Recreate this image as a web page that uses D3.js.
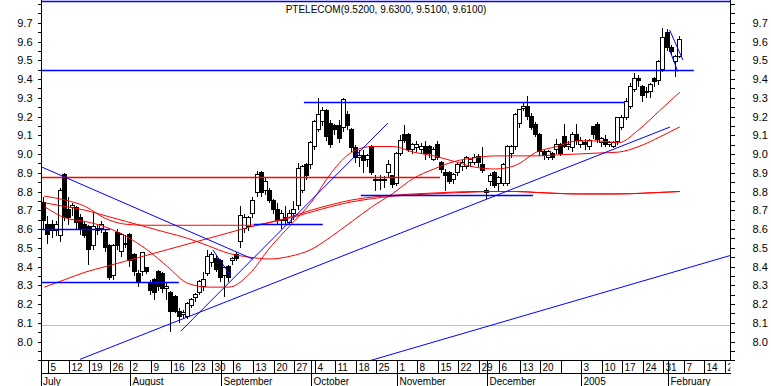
<!DOCTYPE html>
<html>
<head>
<meta charset="utf-8">
<script src="https://cdnjs.cloudflare.com/ajax/libs/d3/7.8.5/d3.min.js"></script>
<style>
    body { margin: 0; background: #fff; }
    text { font-family: "Liberation Sans", Arial, sans-serif; fill: #000; }
</style>
</head>
<body>
<script>
(function() {
    'use strict';

    let width = 771;
    let height = 386;

    let title = "PTELECOM(9.5200, 9.6300, 9.5100, 9.6100)";

    // daily bars, first one is Friday 2 July 2004
    let firstDay = new Date(2004, 6, 2);
    let lastDay = new Date(2005, 1, 25);

    let opens = [8.74, 8.62, 8.62, 8.59, 8.56, 8.89, 8.70, 8.71, 8.71, 8.66, 8.62, 8.61, 8.51, 8.60, 8.60, 8.58, 8.51, 8.35, 8.58, 8.48,
        8.52, 8.57, 8.46, 8.36, 8.37, 8.39, 8.31, 8.33, 8.37, 8.36, 8.28, 8.26, 8.24, 8.16, 8.14, 8.13, 8.19, 8.23, 8.26, 8.29,
        8.36, 8.42, 8.44, 8.43, 8.35, 8.40, 8.43, 8.46, 8.53, 8.60, 8.61, 8.68, 8.79, 8.90, 8.80, 8.80, 8.75, 8.70, 8.64, 8.66,
        8.63, 8.68, 8.72, 8.80, 8.94, 8.94, 9.04, 9.13, 9.17, 9.23, 9.16, 9.15, 9.15, 9.14, 9.21, 9.13, 9.03, 8.98, 8.99, 8.97,
        9.04, 8.86, 8.86, 8.86, 8.90, 8.88, 8.84, 9.00, 9.10, 9.10, 9.02, 9.03, 9.02, 9.04, 9.04, 8.97, 9.05, 8.95, 8.90, 8.90,
        8.86, 8.90, 8.93, 8.93, 8.95, 8.95, 8.985, 8.94, 8.80, 8.85, 8.90, 8.84, 8.84, 8.84, 9.00, 9.04, 9.16, 9.24, 9.25, 9.20,
        9.155, 9.10, 9.01, 8.98, 9.00, 9.02, 9.05, 9.09, 9.04, 9.03, 9.10, 9.05, 9.06, 9.04, 9.146, 9.155, 9.06, 9.075, 9.05, 9.04,
        9.066, 9.14, 9.19, 9.25, 9.34, 9.40, 9.36, 9.33, 9.33, 9.40, 9.39, 9.45, 9.645, 9.565, 9.49, 9.52];
    let highs = [8.77, 8.67, 8.65, 8.64, 8.82, 8.90, 8.77, 8.74, 8.72, 8.68, 8.64, 8.62, 8.69, 8.62, 8.64, 8.60, 8.52, 8.52, 8.60, 8.58,
        8.57, 8.58, 8.47, 8.38, 8.48, 8.40, 8.33, 8.34, 8.38, 8.37, 8.31, 8.27, 8.25, 8.18, 8.17, 8.21, 8.23, 8.26, 8.33, 8.37,
        8.49, 8.48, 8.46, 8.44, 8.40, 8.41, 8.45, 8.48, 8.72, 8.68, 8.67, 8.77, 8.91, 8.91, 8.87, 8.82, 8.76, 8.74, 8.70, 8.72,
        8.70, 8.75, 8.95, 8.94, 8.95, 9.07, 9.18, 9.30, 9.25, 9.24, 9.18, 9.16, 9.18, 9.30, 9.23, 9.14, 9.05, 9.02, 9.02, 9.00,
        9.05, 8.89, 8.89, 8.88, 8.97, 8.89, 9.01, 9.10, 9.155, 9.11, 9.06, 9.07, 9.06, 9.07, 9.05, 9.04, 9.07, 8.96, 8.92, 8.91,
        8.90, 8.95, 8.97, 8.99, 8.98, 9.00, 9.00, 9.04, 8.82, 8.90, 8.91, 8.88, 8.95, 9.05, 9.05, 9.22, 9.24, 9.27, 9.31, 9.22,
        9.17, 9.11, 9.02, 9.02, 9.01, 9.08, 9.06, 9.16, 9.07, 9.12, 9.16, 9.09, 9.08, 9.08, 9.15, 9.17, 9.09, 9.10, 9.07, 9.07,
        9.20, 9.21, 9.30, 9.38, 9.43, 9.42, 9.37, 9.36, 9.38, 9.41, 9.50, 9.67, 9.665, 9.58, 9.53, 9.63];
    let lows = [8.60, 8.52, 8.55, 8.56, 8.53, 8.64, 8.62, 8.67, 8.60, 8.57, 8.55, 8.41, 8.49, 8.57, 8.58, 8.48, 8.33, 8.33, 8.49, 8.45,
        8.50, 8.40, 8.35, 8.29, 8.35, 8.36, 8.25, 8.22, 8.27, 8.26, 8.22, 8.05, 8.15, 8.10, 8.12, 8.12, 8.18, 8.21, 8.25, 8.27,
        8.35, 8.40, 8.37, 8.32, 8.24, 8.32, 8.41, 8.43, 8.50, 8.58, 8.59, 8.66, 8.77, 8.77, 8.78, 8.74, 8.68, 8.62, 8.60, 8.62,
        8.62, 8.65, 8.70, 8.79, 8.86, 8.92, 9.02, 9.12, 9.15, 9.07, 9.03, 9.10, 9.06, 9.12, 9.13, 9.01, 8.95, 8.93, 8.90, 8.93,
        8.89, 8.80, 8.81, 8.82, 8.87, 8.82, 8.83, 8.99, 9.06, 9.01, 9.00, 9.01, 9.00, 8.97, 8.98, 8.96, 8.97, 8.90, 8.80, 8.84,
        8.84, 8.88, 8.91, 8.92, 8.93, 8.94, 8.93, 8.90, 8.76, 8.83, 8.82, 8.80, 8.83, 8.83, 8.98, 9.02, 9.14, 9.23, 9.18, 9.13,
        9.09, 8.99, 8.97, 8.97, 8.97, 9.00, 8.99, 9.03, 9.02, 9.01, 9.05, 9.03, 9.02, 9.02, 9.08, 9.06, 9.04, 9.04, 9.04, 9.03,
        9.05, 9.13, 9.18, 9.24, 9.33, 9.36, 9.28, 9.30, 9.30, 9.36, 9.37, 9.44, 9.55, 9.53, 9.41, 9.51];
    let closes = [8.64, 8.57, 8.59, 8.62, 8.80, 8.66, 8.66, 8.72, 8.63, 8.60, 8.56, 8.49, 8.61, 8.59, 8.62, 8.50, 8.34, 8.51, 8.51, 8.57,
        8.52, 8.43, 8.37, 8.32, 8.47, 8.37, 8.27, 8.26, 8.29, 8.28, 8.29, 8.16, 8.16, 8.13, 8.15, 8.20, 8.22, 8.25, 8.32, 8.33,
        8.45, 8.46, 8.38, 8.34, 8.39, 8.34, 8.44, 8.44, 8.67, 8.66, 8.66, 8.75, 8.89, 8.79, 8.85, 8.75, 8.70, 8.64, 8.68, 8.64,
        8.68, 8.70, 8.92, 8.93, 8.88, 9.06, 9.17, 9.21, 9.23, 9.09, 9.05, 9.13, 9.08, 9.29, 9.15, 9.03, 8.98, 8.99, 8.96, 8.99,
        8.90, 8.86, 8.86, 8.86, 8.94, 8.835, 9.00, 9.07, 9.07, 9.02, 9.05, 9.05, 9.04, 9.00, 9.00, 9.02, 8.98, 8.915, 8.88, 8.85,
        8.89, 8.94, 8.95, 8.98, 8.97, 8.98, 8.95, 8.91, 8.79, 8.88, 8.83, 8.87, 8.94, 9.04, 9.04, 9.21, 9.235, 9.25, 9.20, 9.14,
        9.10, 9.01, 8.99, 9.01, 8.98, 9.05, 9.00, 9.04, 9.05, 9.10, 9.07, 9.07, 9.05, 9.07, 9.10, 9.075, 9.08, 9.05, 9.06, 9.06,
        9.19, 9.19, 9.28, 9.36, 9.40, 9.39, 9.31, 9.33, 9.37, 9.385, 9.49, 9.62, 9.565, 9.545, 9.52, 9.61];

    // moving averages, every fifth bar
    let maDays = [0, 5, 10, 15, 20, 25, 30, 35, 40, 45, 50, 55, 60, 65, 70, 75,
        80, 85, 90, 95, 100, 105, 110, 115, 120, 125, 130, 135, 140, 145, 150, 155];
    let maShort = [8.72, 8.66, 8.64, 8.61, 8.56, 8.49, 8.40, 8.31, 8.29, 8.29, 8.36, 8.50, 8.62, 8.74, 8.90, 9.01,
        9.04, 9.04, 9.01, 8.99, 8.96, 8.93, 8.92, 8.94, 9.01, 9.04, 9.07, 9.07, 9.06, 9.13, 9.23, 9.33];
    let maMedium = [8.74, 8.72, 8.70, 8.67, 8.64, 8.61, 8.58, 8.55, 8.51, 8.47, 8.45, 8.44, 8.455, 8.49, 8.56, 8.64,
        8.72, 8.79, 8.87, 8.92, 8.96, 8.98, 8.99, 8.99, 8.99, 8.995, 9.00, 9.005, 9.01, 9.04, 9.09, 9.145];
    let maLong = [8.775, 8.755, 8.72, 8.655, 8.625, 8.62, 8.62, 8.62, 8.62, 8.62, 8.62, 8.635, 8.665, 8.70, 8.73, 8.755,
        8.77, 8.78, 8.787, 8.792, 8.797, 8.80, 8.80, 8.80, 8.795, 8.79, 8.787, 8.787, 8.787, 8.79, 8.795, 8.80];
    let maSlow = [8.29, 8.33, 8.37, 8.40, 8.43, 8.46, 8.49, 8.52, 8.55, 8.58, 8.61, 8.635, 8.66, 8.69, 8.72, 8.745,
        8.762, 8.775, 8.782, 8.788, 8.793, 8.797, 8.80, 8.80, 8.795, 8.79, 8.787, 8.787, 8.787, 8.79, 8.795, 8.80];

    // drawn lines: [bar, price, bar, price]
    let blueLines = [
        [-0.8, 9.818, 167.4, 9.818],
        [-0.8, 9.446, 158.4, 9.446],
        [63.3, 9.276, 141.6, 9.276],
        [-0.8, 8.598, 16.0, 8.598],
        [-0.8, 8.316, 32.8, 8.316],
        [51.1, 8.627, 67.9, 8.627],
        [77.2, 8.780, 119.2, 8.780],
        [-0.8, 8.932, 50.8, 8.440],
        [33.3, 8.056, 83.8, 9.165],
        [8.7, 7.905, 152.6, 9.144],
        [79.4, 7.898, 167.2, 8.458],
        [41.1, 8.488, 45.5, 8.349],
        [152.5, 9.661, 155.75, 9.501],
        [152.5, 9.555, 154.5, 9.439]
    ];
    let redLines = [
        [-0.8, 8.876, 96.5, 8.876]
    ];
    let grayLevel = 8.088;

    let weekLabels = ["5", "12", "19", "26", "2", "9", "16", "23", "30", "6", "13", "20", "27", "4", "11", "18", "25",
        "1", "8", "15", "22", "29", "6", "13", "20", "", "3", "10", "17", "24", "31", "7", "14", "21"];
    let monthLabels = ["July", "August", "September", "October", "November", "December", "2005", "February"];

    let plotLeft = 41.5;
    let plotRight = 730.5;
    let plotBottom = 360.5;

    function tradingDays() {
        let days = [];
        for (let d = new Date(firstDay); d <= lastDay; d.setDate(d.getDate() + 1)) {
            if (d.getDay() !== 0 && d.getDay() !== 6)
                days.push(new Date(d));
        }
        return days;
    }

    function px(v) { return Math.round(v) + 0.5; }

    function init() {
        let days = tradingDays();

        let x = d3.scaleLinear().domain([-0.7, 167.35]).range([plotLeft, plotRight]);
        let y = d3.scaleLinear().domain([7.9, 9.82]).range([360.25, 0.25]);

        let svg = d3.select("body").append("svg")
            .attr("width", width)
            .attr("height", height)
            .style("display", "block");

        svg.append("rect").attr("width", width).attr("height", height).attr("fill", "#fff");

        let defs = svg.append("defs");
        defs.append("clipPath").attr("id", "plot-clip")
            .append("rect")
            .attr("x", plotLeft).attr("y", 0)
            .attr("width", plotRight - plotLeft).attr("height", plotBottom);
        defs.append("clipPath").attr("id", "band-clip")
            .append("rect").attr("x", plotLeft).attr("y", plotBottom)
            .attr("width", plotRight - plotLeft).attr("height", height - plotBottom);

        // axes
        let tickVals = d3.range(790, 982, 5).map(function(v) { return v / 100; });
        function tickLabel(v) {
            let c = Math.round(v * 100);
            return (c % 10 === 0 && c >= 800 && c <= 970) ? d3.format(".1f")(v) : "";
        }
        let leftAxis = svg.append("g")
            .attr("transform", "translate(" + plotLeft + ",0)")
            .call(d3.axisLeft(y).tickValues(tickVals).tickFormat(tickLabel).tickSize(4).tickSizeOuter(0).tickPadding(5));
        let rightAxis = svg.append("g")
            .attr("transform", "translate(" + plotRight + ",0)")
            .call(d3.axisRight(y).tickValues(tickVals).tickFormat(tickLabel).tickSize(4).tickSizeOuter(0).tickPadding(18));
        [leftAxis, rightAxis].forEach(function(a) {
            a.select(".domain").remove();
            a.selectAll(".tick line").attr("stroke", "#000").attr("shape-rendering", "crispEdges");
            a.selectAll(".tick text").attr("font-size", 11).attr("font-family", null);
        });

        let plot = svg.append("g").attr("clip-path", "url(#plot-clip)");

        // gray level
        plot.append("line")
            .attr("x1", plotLeft).attr("x2", plotRight)
            .attr("y1", px(y(grayLevel))).attr("y2", px(y(grayLevel)))
            .attr("stroke", "#c0c0c0").attr("shape-rendering", "crispEdges");

        // candles
        let bars = d3.range(opens.length).map(function(i) {
            return { i: i, o: opens[i], h: highs[i], l: lows[i], c: closes[i] };
        });
        let candle = plot.append("g").selectAll("g").data(bars).enter().append("g");
        candle.append("line")
            .attr("x1", function(d) { return Math.round(x(d.i)) - 0.5; })
            .attr("x2", function(d) { return Math.round(x(d.i)) - 0.5; })
            .attr("y1", function(d) { return Math.round(y(d.h)); })
            .attr("y2", function(d) { return Math.round(y(d.l)); })
            .attr("stroke", "#000")
            .attr("shape-rendering", "crispEdges");
        candle.append("rect")
            .attr("x", function(d) { return Math.round(x(d.i)) - 2.5; })
            .attr("width", 4)
            .attr("y", function(d) { return px(y(Math.max(d.o, d.c))) - 1; })
            .attr("height", function(d) { return Math.max(1, Math.round(y(Math.min(d.o, d.c))) - Math.round(y(Math.max(d.o, d.c)))); })
            .attr("fill", function(d) { return d.c < d.o ? "#000" : "#fff"; })
            .attr("stroke", "#000")
            .attr("shape-rendering", "crispEdges");

        // moving averages
        let maLine = d3.line()
            .x(function(d) { return x(d[0]); })
            .y(function(d) { return y(d[1]); })
            .curve(d3.curveMonotoneX);
        [maShort, maMedium, maLong, maSlow].forEach(function(ma) {
            plot.append("path")
                .attr("d", maLine(maDays.map(function(d, k) { return [d, ma[k]]; })))
                .attr("fill", "none")
                .attr("stroke", "#ff0000")
                .attr("stroke-width", 1);
        });

        // drawn lines
        function drawSegments(list, colour) {
            plot.append("g").selectAll("line").data(list).enter().append("line")
                .attr("x1", function(d) { return x(d[0]); })
                .attr("y1", function(d) { return d[1] === d[3] ? px(y(d[1])) : y(d[1]); })
                .attr("x2", function(d) { return x(d[2]); })
                .attr("y2", function(d) { return d[1] === d[3] ? px(y(d[3])) : y(d[3]); })
                .attr("stroke", colour)
                .attr("stroke-width", function(d) { return d[1] === d[3] ? 1.5 : 1; });
        }
        drawSegments(redLines, "#ff0000");
        drawSegments(blueLines, "#0000ff");

        // frame and date band
        let frame = svg.append("g").attr("stroke", "#000").attr("shape-rendering", "crispEdges");
        frame.append("line").attr("x1", plotLeft).attr("x2", plotLeft).attr("y1", 0).attr("y2", height);
        frame.append("line").attr("x1", plotRight).attr("x2", plotRight).attr("y1", 0).attr("y2", plotBottom);
        frame.append("line").attr("x1", plotLeft).attr("x2", plotRight).attr("y1", plotBottom).attr("y2", plotBottom);
        frame.append("line").attr("x1", plotLeft).attr("x2", plotRight).attr("y1", 373.5).attr("y2", 373.5);

        let mondays = [];
        let monthStarts = [];
        days.forEach(function(d, i) {
            if (d.getDay() === 1) mondays.push(i);
            if (i > 0 && d.getMonth() !== days[i - 1].getMonth()) monthStarts.push(i);
        });

        let band = svg.append("g").attr("clip-path", "url(#band-clip)");
        let weeks = mondays.slice(0, weekLabels.length);

        band.selectAll(".week").data(weeks).enter().append("line")
            .attr("x1", function(d) { return px(x(d)); })
            .attr("x2", function(d) { return px(x(d)); })
            .attr("y1", plotBottom).attr("y2", 373.5)
            .attr("stroke", "#000").attr("shape-rendering", "crispEdges");
        band.selectAll(".week-label").data(weeks).enter().append("text")
            .attr("x", function(d) { return px(x(d)) + 2; })
            .attr("y", 371)
            .attr("font-size", 10)
            .text(function(d, k) { return weekLabels[k]; });

        band.selectAll(".month").data(monthStarts).enter().append("line")
            .attr("x1", function(d) { return px(x(d)); })
            .attr("x2", function(d) { return px(x(d)); })
            .attr("y1", plotBottom).attr("y2", height)
            .attr("stroke", "#000").attr("shape-rendering", "crispEdges");
        band.selectAll(".month-label").data([0].concat(monthStarts).slice(0, monthLabels.length)).enter().append("text")
            .attr("x", function(d) { return d === 0 ? plotLeft + 1.5 : px(x(d)) + 2; })
            .attr("y", 384.5)
            .attr("font-size", 10)
            .text(function(d, k) { return monthLabels[k]; });

        svg.append("text")
            .attr("x", (plotLeft + plotRight) / 2)
            .attr("y", 13)
            .attr("text-anchor", "middle")
            .attr("font-size", 10)
            .text(title);
    }

    window.onload = init;
})();
</script>
</body>
</html>
